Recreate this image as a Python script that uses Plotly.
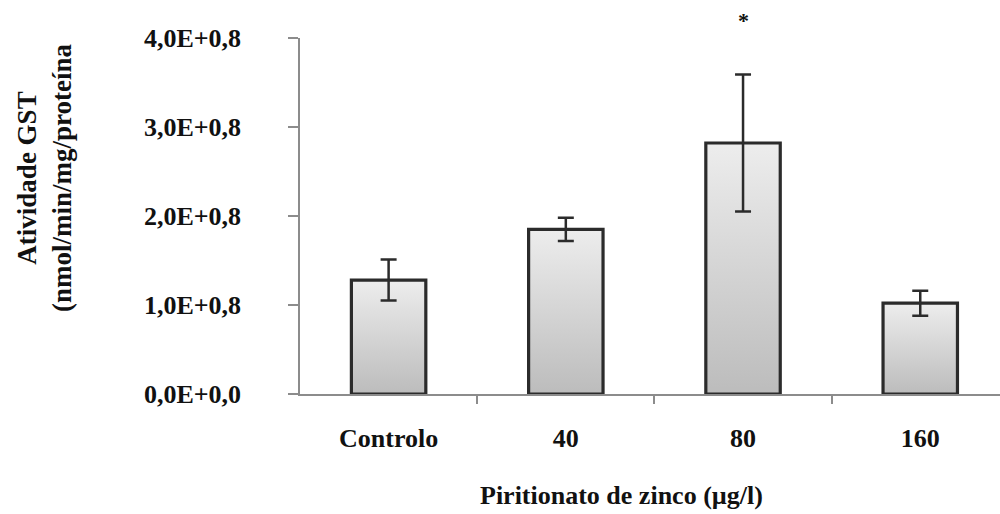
import plotly.graph_objects as go

# GST activity per zinc pyrithione concentration
categories = ["Controlo", "40", "80", "160"]
means = [1.28, 1.85, 2.82, 1.02]
errors = [0.23, 0.13, 0.77, 0.14]
significant = [False, False, True, False]

y_tick_values = [0, 1, 2, 3, 4]
y_tick_labels = ["0,0E+0,0", "1,0E+0,8", "2,0E+0,8", "3,0E+0,8", "4,0E+0,8"]

FONT = "Liberation Serif"
INK = "#2b2b2b"
AXIS = "#8c8c8c"
half_w = 0.21
TXT = 26

fig = go.Figure()
positions = list(range(len(categories)))

# Bars as filled outlines so each gets its own vertical gradient
for i, (cat, m) in enumerate(zip(categories, means)):
    fig.add_trace(go.Scatter(
        x=[i - half_w, i - half_w, i + half_w, i + half_w, i - half_w],
        y=[0, m, m, 0, 0],
        mode="lines",
        fill="toself",
        fillgradient=dict(type="vertical",
                          colorscale=[[0, "#bcbcbc"], [1, "#ededed"]]),
        line=dict(color=INK, width=3.2),
        hoverinfo="skip",
        showlegend=False,
        name=cat,
    ))

# Error bars drawn on top of the bars
fig.add_trace(go.Scatter(
    x=positions, y=means, mode="markers",
    marker=dict(size=1, color="rgba(0,0,0,0)"),
    error_y=dict(type="data", array=errors, visible=True,
                 color=INK, thickness=2.5, width=8),
    showlegend=False, hoverinfo="skip",
))

# Significance marks
for i, (m, e, s) in enumerate(zip(means, errors, significant)):
    if s:
        fig.add_annotation(x=i, y=4.0, yref="y", text="*", showarrow=False,
                           yshift=18, font=dict(family=FONT, size=22,
                                                color="#111", weight=700))

fig.update_layout(
    width=1000, height=514,
    margin=dict(l=300, r=0, t=38, b=120),
    paper_bgcolor="white", plot_bgcolor="white",
    font=dict(family=FONT, size=TXT, color="#111", weight=700),
    showlegend=False,
)

fig.update_xaxes(
    range=[-0.5, 3.45],
    tickmode="array", tickvals=positions, ticktext=categories,
    ticks="outside", ticklen=0, tickcolor=AXIS,
    minor=dict(tickmode="array", tickvals=[0.5, 1.5, 2.5],
               ticks="outside", ticklen=8, tickcolor=AXIS, tickwidth=1.5),
    showline=True, linecolor=AXIS, linewidth=1.5,
    showgrid=False, zeroline=False,
    ticklabelstandoff=20,
    tickfont=dict(family=FONT, size=TXT, color="#111", weight=700),
)

fig.update_yaxes(
    range=[0, 4],
    tickmode="array", tickvals=y_tick_values, ticktext=y_tick_labels,
    ticks="outside", ticklen=10, tickcolor=AXIS, tickwidth=1.5,
    showline=True, linecolor=AXIS, linewidth=1.5,
    showgrid=False, zeroline=False,
    ticklabelstandoff=42,
    tickfont=dict(family=FONT, size=TXT, color="#111", weight=700),
)

# Axis titles
fig.add_annotation(xref="paper", yref="paper", x=(621 - 300) / 700, y=0,
                   yshift=-101, text="Piritionato de zinco (µg/l)",
                   showarrow=False, xanchor="center", yanchor="middle",
                   font=dict(family=FONT, size=TXT, color="#111", weight=700))
fig.add_annotation(xref="paper", yref="paper", x=0, xshift=-256,
                   y=(394 - 178) / 356, textangle=-90,
                   text="Atividade GST<br>(nmol/min/mg/proteína",
                   showarrow=False, xanchor="center", yanchor="middle",
                   font=dict(family=FONT, size=27, color="#111", weight=700))

fig.write_html("out.html")
